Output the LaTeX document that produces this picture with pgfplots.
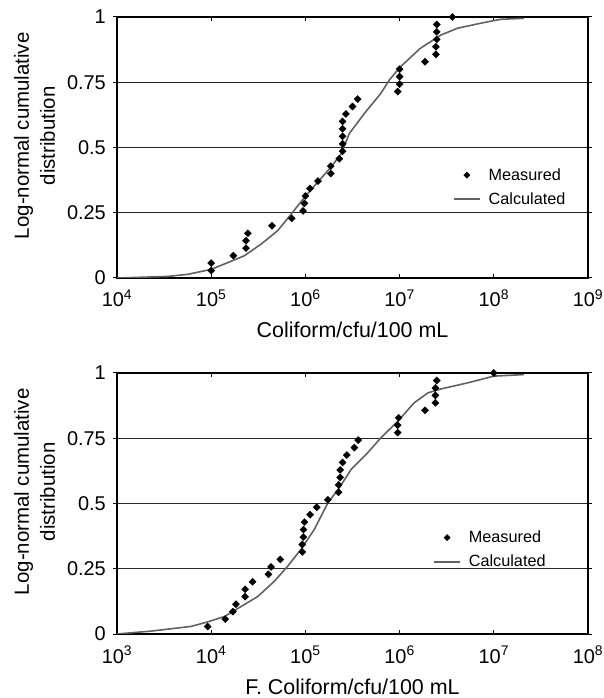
\documentclass[border=0pt]{standalone}
\usepackage{fontspec}
\setmainfont{Liberation Sans}
\usepackage{pgfplots}
\usepackage{pgfplotstable}
\pgfplotsset{compat=1.18}

% Total coliform: measured counts and fitted log-normal CDF
\pgfplotstableread{
x       y
1.00e5  0.0286
1.00e5  0.0571
1.72e5  0.0857
2.34e5  0.1143
2.34e5  0.1429
2.45e5  0.1714
4.42e5  0.2000
7.16e5  0.2286
9.44e5  0.2571
9.77e5  0.2857
1.00e6  0.3143
1.12e6  0.3429
1.36e6  0.3714
1.86e6  0.4000
1.86e6  0.4286
2.29e6  0.4571
2.48e6  0.4857
2.48e6  0.5143
2.48e6  0.5429
2.48e6  0.5714
2.48e6  0.6000
2.69e6  0.6286
3.16e6  0.6571
3.59e6  0.6857
9.55e6  0.7143
1.00e7  0.7429
1.00e7  0.7714
1.00e7  0.8000
1.86e7  0.8286
2.43e7  0.8571
2.43e7  0.8857
2.48e7  0.9143
2.48e7  0.9429
2.48e7  0.9714
3.63e7  1.0000
}\tcmeas

\pgfplotstableread{
x       y
1.00e4  0.000
3.47e4  0.006
5.62e4  0.014
1.00e5  0.033
1.50e5  0.059
2.24e5  0.085
3.39e5  0.130
5.07e5  0.181
7.08e5  0.245
9.77e5  0.309
1.35e6  0.367
1.86e6  0.424
2.40e6  0.476
2.92e6  0.553
4.22e6  0.630
6.31e6  0.707
7.76e6  0.758
1.02e7  0.809
1.66e7  0.880
2.75e7  0.931
4.12e7  0.957
7.24e7  0.976
1.17e8  0.991
2.09e8  0.995
}\tccalc

% Faecal coliform: measured counts and fitted log-normal CDF
\pgfplotstableread{
x       y
9.18e3  0.0286
1.41e4  0.0571
1.70e4  0.0857
1.83e4  0.1143
2.29e4  0.1429
2.29e4  0.1714
2.75e4  0.2000
4.05e4  0.2286
4.32e4  0.2571
5.42e4  0.2857
9.27e4  0.3143
9.27e4  0.3429
9.50e4  0.3714
9.55e4  0.4000
9.77e4  0.4286
1.12e5  0.4571
1.32e5  0.4857
1.73e5  0.5143
2.25e5  0.5429
2.25e5  0.5714
2.34e5  0.6000
2.34e5  0.6286
2.48e5  0.6571
2.75e5  0.6857
3.31e5  0.7143
3.63e5  0.7429
9.55e5  0.7714
9.55e5  0.8000
9.77e5  0.8286
1.86e6  0.8571
2.40e6  0.8857
2.40e6  0.9143
2.40e6  0.9429
2.48e6  0.9714
1.00e7  1.0000
}\fcmeas

\pgfplotstableread{
x       y
1.00e3  0.000
2.29e3  0.011
6.10e3  0.029
9.12e3  0.046
1.38e4  0.067
2.09e4  0.106
3.13e4  0.144
4.68e4  0.202
6.46e4  0.259
8.91e4  0.323
1.24e5  0.400
1.73e5  0.502
2.29e5  0.560
3.05e5  0.630
4.57e5  0.694
6.31e5  0.751
9.55e5  0.815
1.43e6  0.886
2.00e6  0.924
2.75e6  0.939
5.25e6  0.962
1.00e7  0.988
2.09e7  0.994
}\fccalc

\pgfplotsset{
  every axis/.append style={
    scale only axis, width=471bp, height=261bp,
    ymin=0, ymax=1,
    ytick={0,0.25,0.5,0.75,1}, yticklabels={0,0.25,0.5,0.75,1},
    ymajorgrids, major grid style={black!85, line width=0.9bp},
    axis line style={line width=1.5bp},
    xtick align=inside, ytick align=outside,
    major tick length=4bp,
    tick style={black, line width=1bp},
    tick label style={font=\fontsize{20}{24}\selectfont},
    yticklabel style={anchor=east, inner sep=0pt, xshift=-7bp},
    xticklabel style={anchor=base, inner sep=0pt, yshift=-29bp},
    xlabel style={at={(axis description cs:0.5,0)}, anchor=base, yshift=-60bp,
                  font=\fontsize{21.5}{25}\selectfont},
    ylabel style={at={(axis description cs:-0.175,0.545)}, anchor=center,
                  align=center, font=\fontsize{20.5}{26}\selectfont},
    legend style={draw=none, fill=none, inner sep=0pt, outer sep=0pt,
                  font=\fontsize{16.3}{19}\selectfont,
                  row sep=7bp, column sep=6bp,
                  cells={anchor=west}},
    legend cell align=left,
  },
  measured/.style={only marks, mark=square*, mark size=2.5bp,
                   mark options={black, solid, rotate=45},
                   legend image code/.code={\path (0bp,0bp) (26bp,0bp);
                     \draw[##1, mark size=2.2bp] plot coordinates {(13bp,0bp)};}},
  calculated/.style={no marks, color=black!62, line width=1.6bp,
                   legend image code/.code={\draw[##1] (0bp,0bp) -- (26bp,0bp);}},
}

\begin{document}
\begin{tikzpicture}
\begin{semilogxaxis}[at={(117bp,420bp)}, anchor=south west,
    xmin=1e4, xmax=1e9, xminorticks=false,
    xtick={1e4,1e5,1e6,1e7,1e8,1e9},
    xticklabels={10\textsuperscript{4},10\textsuperscript{5},10\textsuperscript{6},10\textsuperscript{7},10\textsuperscript{8},10\textsuperscript{9}},
    xlabel={Coliform/cfu/100 mL},
    ylabel={Log-normal cumulative\\distribution},
    legend style={at={(axis description cs:0.7135,0.348)}, anchor=west}]
  \addplot[measured] table {\tcmeas};
  \addlegendentry{Measured}
  \addplot[calculated] table {\tccalc};
  \addlegendentry{Calculated}
\end{semilogxaxis}
\begin{semilogxaxis}[at={(117bp,64bp)}, anchor=south west,
    xmin=1e3, xmax=1e8, xminorticks=false,
    xtick={1e3,1e4,1e5,1e6,1e7,1e8},
    xticklabels={10\textsuperscript{3},10\textsuperscript{4},10\textsuperscript{5},10\textsuperscript{6},10\textsuperscript{7},10\textsuperscript{8}},
    xlabel={F. Coliform/cfu/100 mL},
    ylabel={Log-normal cumulative\\distribution},
    legend style={at={(axis description cs:0.6715,0.323)}, anchor=west}]
  \addplot[measured] table {\fcmeas};
  \addlegendentry{Measured}
  \addplot[calculated] table {\fccalc};
  \addlegendentry{Calculated}
\end{semilogxaxis}
\pgfresetboundingbox
\path[use as bounding box] (0bp,0bp) rectangle (604bp,698bp);
\end{tikzpicture}
\end{document}
